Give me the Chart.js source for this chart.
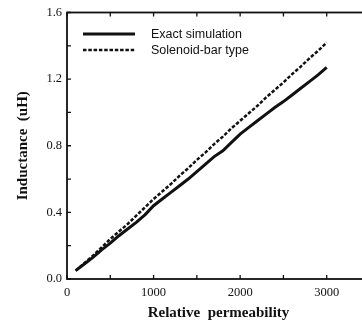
<!DOCTYPE html>
<html>
<head>
<meta charset="utf-8">
<script src="https://cdn.jsdelivr.net/npm/chart.js@4.4.1/dist/chart.umd.min.js"></script>
<style>
  html, body { margin: 0; padding: 0; background: #fff; overflow: hidden; }
  #wrap { width: 374px; height: 329px; }
</style>
</head>
<body>
<div id="wrap"><canvas id="chart" width="374" height="329"></canvas></div>
<script>
// ---------------------------------------------------------
// Data
// ---------------------------------------------------------
const permeability = [100, 200, 300, 400, 500, 600, 700, 800, 900, 1000, 1100, 1200, 1300, 1400, 1500,
                      1600, 1700, 1800, 1900, 2000, 2100, 2200, 2300, 2400, 2500, 2600, 2700, 2800, 2900, 3000];
const exactSim = [0.05, 0.09, 0.13, 0.175, 0.215, 0.26, 0.30, 0.34, 0.385, 0.44, 0.48, 0.52, 0.56, 0.60, 0.645,
                  0.69, 0.735, 0.77, 0.82, 0.87, 0.91, 0.95, 0.99, 1.03, 1.065, 1.105, 1.145, 1.185, 1.225, 1.27];
const solenoidBar = [0.05, 0.095, 0.14, 0.19, 0.24, 0.285, 0.33, 0.38, 0.43, 0.48, 0.525, 0.57, 0.62, 0.665, 0.715,
                     0.76, 0.81, 0.855, 0.905, 0.95, 0.995, 1.04, 1.09, 1.135, 1.18, 1.23, 1.275, 1.325, 1.37, 1.42];

const seriesLabels = ["Exact simulation", "Solenoid-bar type"];

const xTicks = [0, 1000, 2000, 3000];
const xMinorTicks = [500, 1500, 2500];
const yTicks = [0, 0.4, 0.8, 1.2, 1.6];
const yMinorTicks = [0.2, 0.6, 1.0, 1.4];

const INK = "#111";
const SERIF = "'Liberation Serif', 'Times New Roman', serif";

// ---------------------------------------------------------
// Frame with inward tick marks (bottom/top and left)
// ---------------------------------------------------------
const framePlugin = {
  id: "frame",
  afterDatasetsDraw(chart) {
    const { ctx, chartArea: a, scales: { x, y } } = chart;
    ctx.save();
    ctx.strokeStyle = INK;
    ctx.lineWidth = 1.8;
    ctx.strokeRect(a.left, a.top, a.right - a.left, a.bottom - a.top);

    ctx.lineWidth = 1.3;
    ctx.beginPath();
    xTicks.concat(xMinorTicks).forEach(v => {
      const px = x.getPixelForValue(v);
      ctx.moveTo(px, a.bottom); ctx.lineTo(px, a.bottom - 4);
      ctx.moveTo(px, a.top); ctx.lineTo(px, a.top + 4);
    });
    yTicks.concat(yMinorTicks).forEach(v => {
      const py = y.getPixelForValue(v);
      ctx.moveTo(a.left, py); ctx.lineTo(a.left + 4, py);
      ctx.moveTo(a.right, py); ctx.lineTo(a.right - 4, py);
    });
    ctx.stroke();
    ctx.restore();
  }
};

// ---------------------------------------------------------
// Legend drawn inside the plot, top-left
// ---------------------------------------------------------
const insideLegend = {
  id: "insideLegend",
  afterDraw(chart) {
    const { ctx } = chart;
    ctx.save();
    ctx.font = "12.5px 'Liberation Sans', Arial, sans-serif";
    ctx.textBaseline = "middle";
    ctx.fillStyle = INK;
    chart.data.datasets.forEach((ds, i) => {
      const yy = 34 + i * 16;
      ctx.strokeStyle = ds.borderColor;
      ctx.lineWidth = ds.borderWidth;
      ctx.setLineDash(ds.borderDash || []);
      ctx.beginPath();
      ctx.moveTo(83, yy);
      ctx.lineTo(135, yy);
      ctx.stroke();
      ctx.setLineDash([]);
      ctx.fillText(ds.label, 151, yy + 1);
    });
    ctx.restore();
  }
};

new Chart(document.getElementById("chart"), {
  type: "line",
  data: {
    labels: permeability,
    datasets: [
      {
        label: seriesLabels[0],
        data: permeability.map((p, i) => ({ x: p, y: exactSim[i] })),
        borderColor: INK,
        borderWidth: 3,
        pointRadius: 0,
        tension: 0
      },
      {
        label: seriesLabels[1],
        data: permeability.map((p, i) => ({ x: p, y: solenoidBar[i] })),
        borderColor: INK,
        borderWidth: 2.5,
        borderDash: [3.5, 1.8],
        pointRadius: 0,
        tension: 0
      }
    ]
  },
  options: {
    responsive: false,
    animation: false,
    layout: { padding: { top: 9, right: 4, left: 0, bottom: 0 } },
    plugins: {
      legend: { display: false },
      tooltip: { enabled: false }
    },
    scales: {
      x: {
        type: "linear",
        min: 0,
        max: 3500,
        afterBuildTicks: s => { s.ticks = xTicks.map(v => ({ value: v })); },
        afterFit: s => { s.height = 50; },
        grid: { display: false, drawTicks: false },
        border: { display: false },
        ticks: {
          padding: 6,
          color: INK,
          maxRotation: 0,
          font: { family: SERIF, size: 12.5 },
          callback: v => String(v)
        },
        title: {
          display: true,
          text: "Relative  permeability",
          color: INK,
          font: { family: SERIF, size: 15, weight: "bold" },
          padding: { top: 0, bottom: 7 }
        }
      },
      y: {
        min: 0,
        max: 1.6,
        afterBuildTicks: s => { s.ticks = yTicks.map(v => ({ value: v })); },
        afterFit: s => { s.width = 67; },
        grid: { display: false, drawTicks: false },
        border: { display: false },
        ticks: {
          padding: 5,
          color: INK,
          font: { family: SERIF, size: 12.5 },
          callback: v => v.toFixed(1)
        },
        title: {
          display: true,
          text: "Inductance  (uH)",
          color: INK,
          font: { family: SERIF, size: 15, weight: "bold" },
          padding: { top: 14, bottom: 0 }
        }
      }
    }
  },
  plugins: [framePlugin, insideLegend]
});
</script>
</body>
</html>
